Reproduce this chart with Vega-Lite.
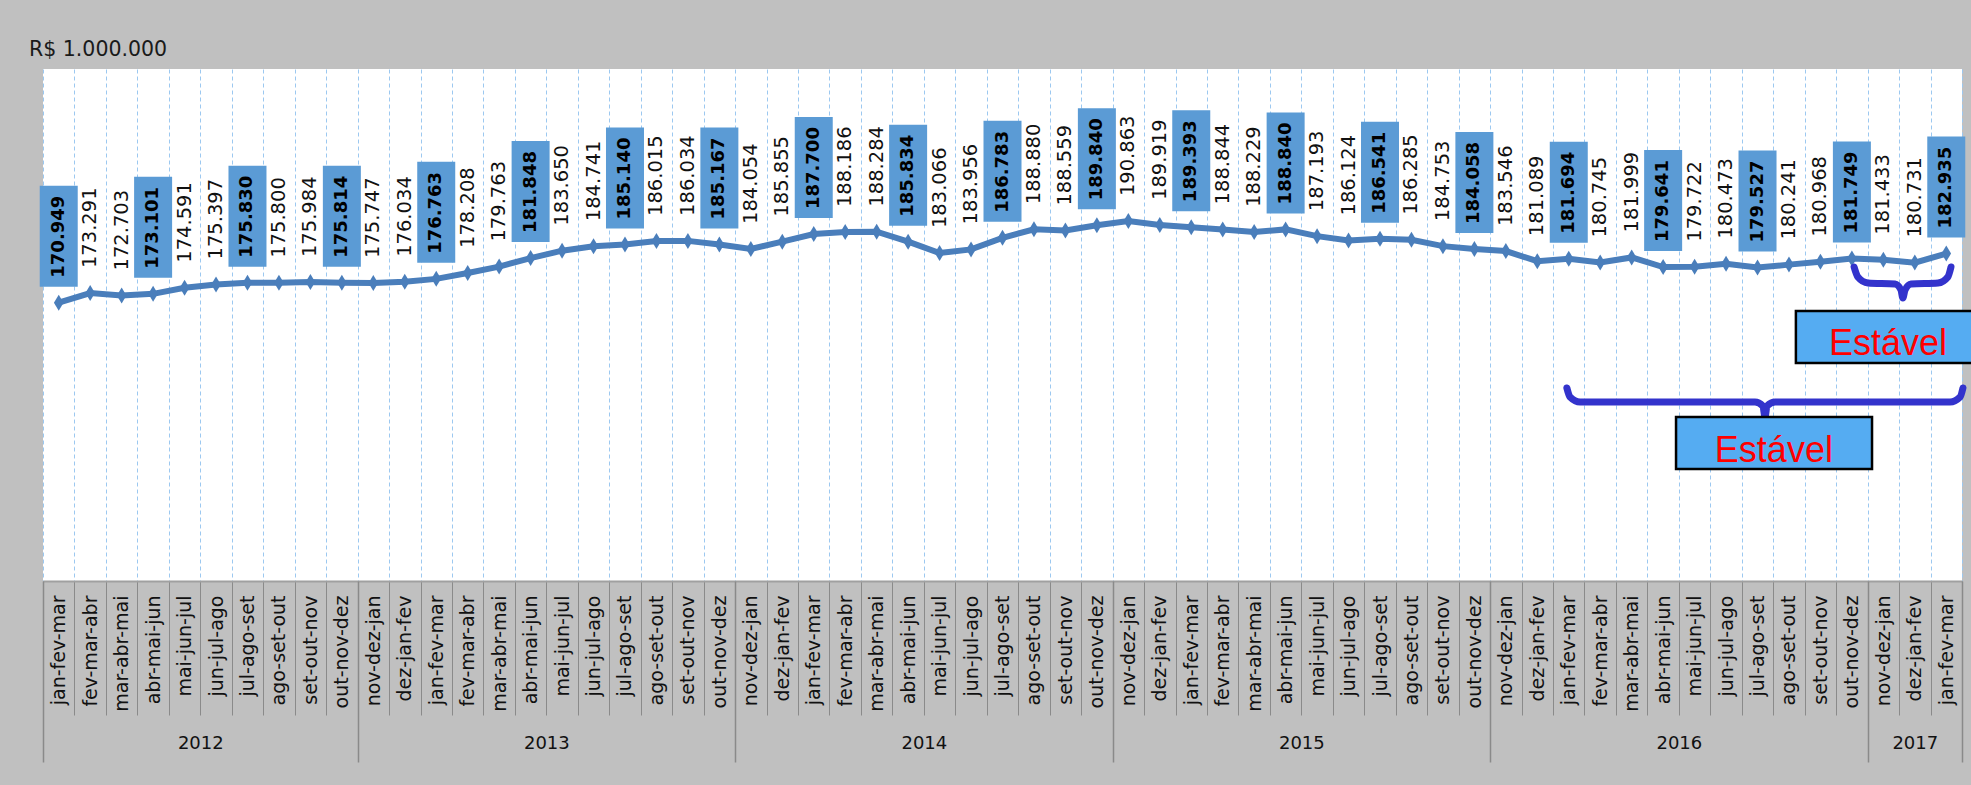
{
  "$schema": "https://vega.github.io/schema/vega-lite/v6.json",
  "autosize": {"type": "none"},
  "padding": {"left": 43, "top": 69, "right": 9, "bottom": 204},
  "width": 1919,
  "height": 512,
  "background": "#c0c0c0",
  "config": {"view": {"stroke": null, "fill": "#ffffff"}},
  "title": {"text": "R$ 1.000.000", "anchor": "start", "frame": "group", "offset": 9, "dx": -14, "font": "DejaVu Sans", "fontSize": 20.5, "fontWeight": "normal", "color": "#1a1a1a"},
  "datasets": {
    "serie": [
      {"ano": "2012", "periodo": "jan-fev-mar", "valor": 170949},
      {"ano": "2012", "periodo": "fev-mar-abr", "valor": 173291},
      {"ano": "2012", "periodo": "mar-abr-mai", "valor": 172703},
      {"ano": "2012", "periodo": "abr-mai-jun", "valor": 173101},
      {"ano": "2012", "periodo": "mai-jun-jul", "valor": 174591},
      {"ano": "2012", "periodo": "jun-jul-ago", "valor": 175397},
      {"ano": "2012", "periodo": "jul-ago-set", "valor": 175830},
      {"ano": "2012", "periodo": "ago-set-out", "valor": 175800},
      {"ano": "2012", "periodo": "set-out-nov", "valor": 175984},
      {"ano": "2012", "periodo": "out-nov-dez", "valor": 175814},
      {"ano": "2013", "periodo": "nov-dez-jan", "valor": 175747},
      {"ano": "2013", "periodo": "dez-jan-fev", "valor": 176034},
      {"ano": "2013", "periodo": "jan-fev-mar", "valor": 176763},
      {"ano": "2013", "periodo": "fev-mar-abr", "valor": 178208},
      {"ano": "2013", "periodo": "mar-abr-mai", "valor": 179763},
      {"ano": "2013", "periodo": "abr-mai-jun", "valor": 181848},
      {"ano": "2013", "periodo": "mai-jun-jul", "valor": 183650},
      {"ano": "2013", "periodo": "jun-jul-ago", "valor": 184741},
      {"ano": "2013", "periodo": "jul-ago-set", "valor": 185140},
      {"ano": "2013", "periodo": "ago-set-out", "valor": 186015},
      {"ano": "2013", "periodo": "set-out-nov", "valor": 186034},
      {"ano": "2013", "periodo": "out-nov-dez", "valor": 185167},
      {"ano": "2014", "periodo": "nov-dez-jan", "valor": 184054},
      {"ano": "2014", "periodo": "dez-jan-fev", "valor": 185855},
      {"ano": "2014", "periodo": "jan-fev-mar", "valor": 187700},
      {"ano": "2014", "periodo": "fev-mar-abr", "valor": 188186},
      {"ano": "2014", "periodo": "mar-abr-mai", "valor": 188284},
      {"ano": "2014", "periodo": "abr-mai-jun", "valor": 185834},
      {"ano": "2014", "periodo": "mai-jun-jul", "valor": 183066},
      {"ano": "2014", "periodo": "jun-jul-ago", "valor": 183956},
      {"ano": "2014", "periodo": "jul-ago-set", "valor": 186783},
      {"ano": "2014", "periodo": "ago-set-out", "valor": 188880},
      {"ano": "2014", "periodo": "set-out-nov", "valor": 188559},
      {"ano": "2014", "periodo": "out-nov-dez", "valor": 189840},
      {"ano": "2015", "periodo": "nov-dez-jan", "valor": 190863},
      {"ano": "2015", "periodo": "dez-jan-fev", "valor": 189919},
      {"ano": "2015", "periodo": "jan-fev-mar", "valor": 189393},
      {"ano": "2015", "periodo": "fev-mar-abr", "valor": 188844},
      {"ano": "2015", "periodo": "mar-abr-mai", "valor": 188229},
      {"ano": "2015", "periodo": "abr-mai-jun", "valor": 188840},
      {"ano": "2015", "periodo": "mai-jun-jul", "valor": 187193},
      {"ano": "2015", "periodo": "jun-jul-ago", "valor": 186124},
      {"ano": "2015", "periodo": "jul-ago-set", "valor": 186541},
      {"ano": "2015", "periodo": "ago-set-out", "valor": 186285},
      {"ano": "2015", "periodo": "set-out-nov", "valor": 184753},
      {"ano": "2015", "periodo": "out-nov-dez", "valor": 184058},
      {"ano": "2016", "periodo": "nov-dez-jan", "valor": 183546},
      {"ano": "2016", "periodo": "dez-jan-fev", "valor": 181089},
      {"ano": "2016", "periodo": "jan-fev-mar", "valor": 181694},
      {"ano": "2016", "periodo": "fev-mar-abr", "valor": 180745},
      {"ano": "2016", "periodo": "mar-abr-mai", "valor": 181999},
      {"ano": "2016", "periodo": "abr-mai-jun", "valor": 179641},
      {"ano": "2016", "periodo": "mai-jun-jul", "valor": 179722},
      {"ano": "2016", "periodo": "jun-jul-ago", "valor": 180473},
      {"ano": "2016", "periodo": "jul-ago-set", "valor": 179527},
      {"ano": "2016", "periodo": "ago-set-out", "valor": 180241},
      {"ano": "2016", "periodo": "set-out-nov", "valor": 180968},
      {"ano": "2016", "periodo": "out-nov-dez", "valor": 181749},
      {"ano": "2017", "periodo": "nov-dez-jan", "valor": 181433},
      {"ano": "2017", "periodo": "dez-jan-fev", "valor": 180731},
      {"ano": "2017", "periodo": "jan-fev-mar", "valor": 182935}
    ],
    "chaves": [
      {"g": "b1", "q": 48.44, "v": 150120},
      {"g": "b1", "q": 48.54, "v": 147922},
      {"g": "b1", "q": 48.86, "v": 146701},
      {"g": "b1", "q": 54.42, "v": 146701},
      {"g": "b1", "q": 54.67, "v": 145725},
      {"g": "b1", "q": 54.74, "v": 143039},
      {"g": "b1", "q": 54.80, "v": 145725},
      {"g": "b1", "q": 55.06, "v": 146701},
      {"g": "b1", "q": 60.62, "v": 146701},
      {"g": "b1", "q": 60.94, "v": 147922},
      {"g": "b1", "q": 61.03, "v": 150119},
      {"g": "b2", "q": 57.57, "v": 179660},
      {"g": "b2", "q": 57.69, "v": 177219},
      {"g": "b2", "q": 58.01, "v": 175754},
      {"g": "b2", "q": 58.87, "v": 175510},
      {"g": "b2", "q": 59.06, "v": 174045},
      {"g": "b2", "q": 59.12, "v": 172092},
      {"g": "b2", "q": 59.19, "v": 174045},
      {"g": "b2", "q": 59.38, "v": 175510},
      {"g": "b2", "q": 60.24, "v": 175754},
      {"g": "b2", "q": 60.55, "v": 177219},
      {"g": "b2", "q": 60.65, "v": 179660}
    ],
    "caixas": [
      {"q": 51.91, "q2": 58.14, "v": 143039, "v2": 130344, "tq": 55.02, "tv": 132053, "txt": "Estável"},
      {"q": 55.72, "q2": 61.45, "v": 168918, "v2": 156223, "tq": 58.65, "tv": 158176, "txt": "Estável"}
    ]
  },
  "resolve": {"scale": {"x": "independent"}, "axis": {"x": "independent"}},
  "layer": [
    {
      "data": {"name": "serie"},
      "transform": [
        {"calculate": "datum.ano + '|' + datum.periodo", "as": "chave"},
        {"calculate": "replace(format(datum.valor, ','), ',', '.')", "as": "rotulo"}
      ],
      "encoding": {
        "x": {
          "field": "chave", "type": "nominal", "sort": null,
          "scale": {"paddingInner": 0, "paddingOuter": 0},
          "axis": {
            "orient": "bottom", "title": null,
            "labelExpr": "split(datum.value, '|')[1]",
            "labelAngle": 270, "labelAlign": "right", "labelBaseline": "middle",
            "labelPadding": -120, "labelFont": "DejaVu Sans", "labelFontSize": 19, "labelColor": "#111111",
            "labelOverlap": false, "labelBound": false, "labelFlush": false,
            "ticks": true, "tickBand": "extent", "tickSize": 134, "tickColor": "#8a8a8a", "tickWidth": 1,
            "domain": true, "domainColor": "#a0a0a0", "domainWidth": 2,
            "grid": true, "gridColor": "#9cc8f0", "gridDash": [4, 3], "gridWidth": 1
          }
        },
        "y": {"field": "valor", "type": "quantitative", "scale": {"domain": [103000, 228000], "nice": false, "zero": false}, "axis": null}
      },
      "layer": [
        {"mark": {"type": "line", "color": "#4a7ebb", "strokeWidth": 6}},
        {
          "transform": [{"filter": "indexof(['jan-fev-mar','abr-mai-jun','jul-ago-set','out-nov-dez'], datum.periodo) >= 0"}],
          "mark": {"type": "bar", "width": 38, "yOffset": -117, "y2Offset": -16, "color": "#5b9bd5"},
          "encoding": {"y2": {"field": "valor"}}
        },
        {"mark": {"type": "point", "shape": "M0,-1L0.6,0L0,1L-0.6,0Z", "size": 256, "filled": true, "color": "#4a7ebb", "opacity": 1}},
        {
          "transform": [{"filter": "indexof(['jan-fev-mar','abr-mai-jun','jul-ago-set','out-nov-dez'], datum.periodo) < 0"}],
          "mark": {"type": "text", "angle": 270, "align": "left", "baseline": "middle", "yOffset": -25, "font": "DejaVu Sans", "fontSize": 19.5, "color": "#111111"},
          "encoding": {"text": {"field": "rotulo"}}
        },
        {
          "transform": [{"filter": "indexof(['jan-fev-mar','abr-mai-jun','jul-ago-set','out-nov-dez'], datum.periodo) >= 0"}],
          "mark": {"type": "text", "angle": 270, "align": "left", "baseline": "middle", "yOffset": -25, "font": "DejaVu Sans", "fontSize": 18, "fontWeight": "bold", "color": "#000000"},
          "encoding": {"text": {"field": "rotulo"}}
        }
      ]
    },
    {
      "data": {"name": "chaves"},
      "mark": {"type": "line", "color": "#3333cc", "strokeWidth": 7, "strokeCap": "round", "strokeJoin": "round", "interpolate": "monotone"},
      "encoding": {
        "x": {
          "field": "q", "type": "quantitative", "scale": {"domain": [0, 61], "nice": false, "zero": false},
          "axis": {
            "orient": "bottom", "title": null,
            "values": [0, 5, 10, 16, 22, 28, 34, 40, 46, 52, 58, 59.5, 61],
            "labelExpr": "datum.value == 5 ? '2012' : datum.value == 16 ? '2013' : datum.value == 28 ? '2014' : datum.value == 40 ? '2015' : datum.value == 52 ? '2016' : datum.value == 59.5 ? '2017' : ''",
            "labelAngle": 0, "labelAlign": "center", "labelBaseline": "top",
            "labelPadding": -28, "labelFont": "DejaVu Sans", "labelFontSize": 18, "labelColor": "#111111",
            "labelOverlap": false, "labelBound": false, "labelFlush": false,
            "ticks": true, "tickSize": 181, "tickColor": "#8a8a8a", "tickWidth": 1.5,
            "tickOpacity": {"condition": {"test": "indexof([0, 10, 22, 34, 46, 58, 61], datum.value) < 0", "value": 0}, "value": 1},
            "domain": false, "grid": false
          }
        },
        "y": {"field": "v", "type": "quantitative", "scale": {"domain": [103000, 228000], "nice": false, "zero": false}, "axis": null},
        "detail": {"field": "g"}
      }
    },
    {
      "data": {"name": "caixas"},
      "mark": {"type": "rect", "color": "#55acf2", "stroke": "#000000", "strokeWidth": 2.5, "opacity": 1},
      "encoding": {
        "x": {"field": "q", "type": "quantitative", "scale": {"domain": [0, 61], "nice": false, "zero": false}, "axis": null},
        "x2": {"field": "q2"},
        "y": {"field": "v", "type": "quantitative", "scale": {"domain": [103000, 228000], "nice": false, "zero": false}, "axis": null},
        "y2": {"field": "v2"}
      }
    },
    {
      "data": {"name": "caixas"},
      "mark": {"type": "text", "align": "center", "baseline": "alphabetic", "font": "Liberation Sans", "fontSize": 36, "color": "#ff0000"},
      "encoding": {
        "x": {"field": "tq", "type": "quantitative", "scale": {"domain": [0, 61], "nice": false, "zero": false}, "axis": null},
        "y": {"field": "tv", "type": "quantitative", "scale": {"domain": [103000, 228000], "nice": false, "zero": false}, "axis": null},
        "text": {"field": "txt"}
      }
    }
  ]
}
